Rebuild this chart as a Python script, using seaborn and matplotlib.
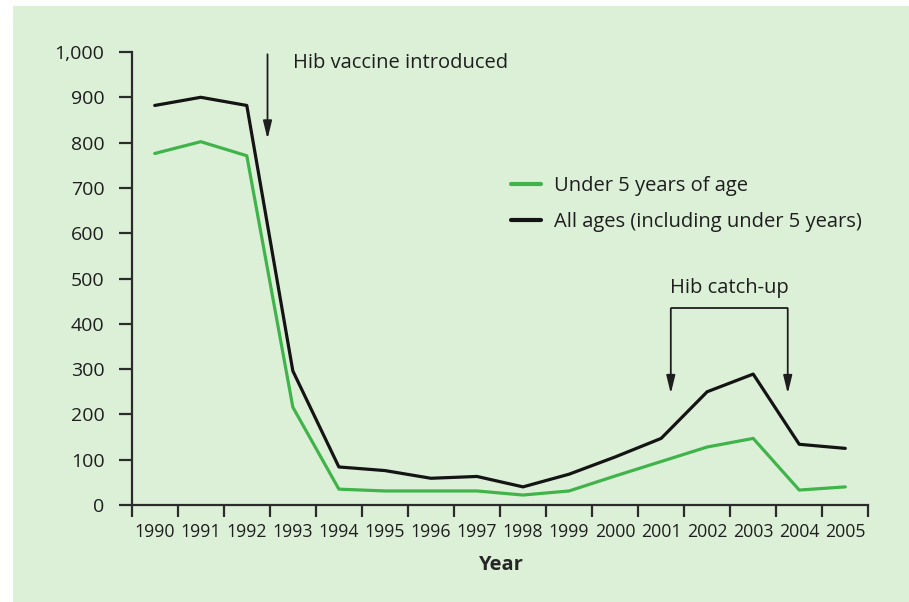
import numpy as np
import pandas as pd
import matplotlib
matplotlib.use("Agg")
import matplotlib.pyplot as plt
import matplotlib.ticker as mticker
from matplotlib.patches import Rectangle
import seaborn as sns

# Data
years = list(range(1990, 2006))
under5 = [776, 802, 771, 216, 35, 31, 31, 31, 22, 31, 64, 96, 128, 147, 33, 40]
all_ages = [882, 900, 882, 296, 84, 76, 59, 63, 40, 68, 106, 147, 250, 289, 134, 125]
series_names = ["Under 5 years of age", "All ages (including under 5 years)"]
y_ticks = list(range(0, 1001, 100))

df = pd.DataFrame({
    "Year": years * 2,
    "Cases": under5 + all_ages,
    "Group": [series_names[0]] * len(years) + [series_names[1]] * len(years),
})

BG = "#dcf0d8"
sns.set_theme(style="ticks")
plt.rcParams["font.family"] = ["Open Sans", "DejaVu Sans"]
plt.rcParams["text.color"] = "#1e1e1e"

fig = plt.figure(figsize=(9.09, 6.02), dpi=100, facecolor="white")
fig.patches.append(Rectangle((13 / 909, 0), 1 - 13 / 909, 1 - 6 / 602,
                             transform=fig.transFigure, facecolor=BG,
                             edgecolor="none", zorder=-1))
ax = fig.add_axes([131.7 / 909, 1 - 505 / 602, (868.3 - 131.7) / 909, (505 - 52) / 602])
ax.set_facecolor(BG)

sns.lineplot(data=df, x="Year", y="Cases", hue="Group", hue_order=series_names,
             palette={series_names[0]: "#40b44a", series_names[1]: "#141414"},
             linewidth=2.3, ax=ax, legend=True)

ax.set_xlim(years[0] - 0.5, years[-1] + 0.5)
ax.set_ylim(0, 1000)
ax.set_xticks(np.arange(years[0] - 0.5, years[-1] + 1.0, 1.0))
ax.set_xticklabels([])
ax.set_xticks(years, minor=True)
ax.set_xticklabels([str(y) for y in years], minor=True)
ax.set_yticks(y_ticks)
ax.yaxis.set_major_formatter(mticker.StrMethodFormatter("{x:,.0f}"))

for s in ["top", "right"]:
    ax.spines[s].set_visible(False)
for s in ["left", "bottom"]:
    ax.spines[s].set_color("#2b2b2b")
    ax.spines[s].set_linewidth(1.6)

ax.tick_params(axis="x", which="major", length=8.4, width=1.6, color="#2b2b2b")
ax.tick_params(axis="x", which="minor", length=0, pad=13, labelsize=12.8, labelcolor="#1e1e1e")
ax.tick_params(axis="y", length=9.6, width=1.6, color="#2b2b2b", pad=10,
               labelsize=14, labelcolor="#1e1e1e")

ax.set_xlabel("Year", fontsize=14.5, fontweight="bold", labelpad=10)
ax.set_ylabel("")

leg = ax.legend(loc="upper left", bbox_to_anchor=(511 / 909, 1 - 176 / 602),
                bbox_transform=fig.transFigure, frameon=False, fontsize=14.5,
                handlelength=1.5, handletextpad=0.65, labelspacing=0.8,
                borderpad=0, borderaxespad=0)
for line in leg.get_lines():
    line.set_linewidth(3)

arrow = dict(arrowstyle="-|>,head_length=0.9,head_width=0.22", color="#1e1e1e", lw=1.3,
             shrinkA=0, shrinkB=0)

# Vaccine introduction
ax.annotate("", xy=(1992.45, 808), xytext=(1992.45, 995), arrowprops=arrow)
ax.text(1993.0, 976, "Hib vaccine introduced", fontsize=14.5, va="center", ha="left")

# Catch-up bracket
cx0, cx1, cy = 2001.21, 2003.75, 434
ax.plot([cx0, cx1], [cy, cy], color="#1e1e1e", lw=1.3, solid_capstyle="butt")
ax.annotate("", xy=(cx0, 246), xytext=(cx0, cy), arrowprops=arrow)
ax.annotate("", xy=(cx1, 246), xytext=(cx1, cy), arrowprops=arrow)
ax.text((cx0 + cx1) / 2, 480, "Hib catch-up", fontsize=14.5, va="center", ha="center")

fig.savefig("out.png", dpi=100, facecolor="white")
